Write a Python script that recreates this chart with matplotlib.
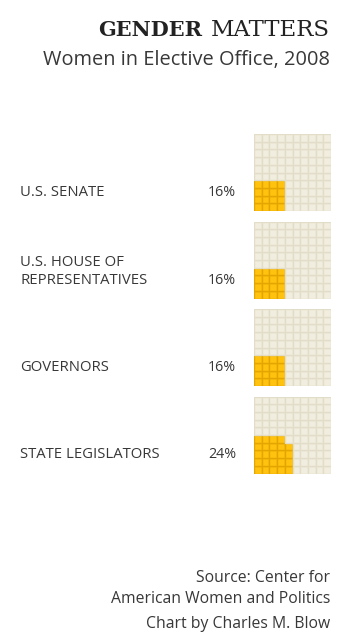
import math
import matplotlib
matplotlib.use("Agg")
import matplotlib.pyplot as plt
from matplotlib.patches import Rectangle

categories = ["U.S. SENATE", "U.S. HOUSE OF\nREPRESENTATIVES", "GOVERNORS", "STATE LEGISLATORS"]
percent_women = [16, 16, 16, 24]

title_bold = "GENDER"
title_light = "MATTERS"
subtitle = "Women in Elective Office, 2008"
source_lines = ["Source: Center for", "American Women and Politics"]
credit = "Chart by Charles M. Blow"

SANS = ["Open Sans", "DejaVu Sans"]
TEXT = "#383838"
EMPTY_FACE = "#f2eedf"
EMPTY_EDGE = "#e2ddc9"
FULL_FACE = "#ffc20f"
FULL_EDGE = "#e3a600"

fig = plt.figure(figsize=(3.5, 6.4), dpi=100)
bg = fig.add_axes([0, 0, 1, 1])
bg.set_xlim(0, 350)
bg.set_ylim(640, 0)
bg.axis("off")

# title block: light word right-aligned, bold word placed just left of it
t2 = bg.text(330, 36, title_light, ha="right", va="baseline", fontsize=16.5,
             family=["DejaVu Serif"], color="#222222")
fig.canvas.draw()
bb = t2.get_window_extent()
left_x = bg.transData.inverted().transform((bb.x0, bb.y0))[0]
bg.text(left_x - 9, 36, title_bold, ha="right", va="baseline", fontsize=15,
        family=["DejaVu Serif"], color="#222222", fontweight="bold")
bg.text(330, 65, subtitle, ha="right", va="baseline", fontsize=14.4,
        family=SANS, color=TEXT)

grid_top = [134, 221.5, 309, 396.5]
label_y = [196.5, 283.5, 371, 457.5]

for i, (cat, pct) in enumerate(zip(categories, percent_women)):
    bg.text(20, label_y[i], cat, ha="left", va="baseline", fontsize=10.7,
            family=SANS, color=TEXT, linespacing=1.2)
    bg.text(236, label_y[i], f"{pct}%", ha="right", va="baseline", fontsize=10.3,
            family=SANS, color=TEXT)

    # waffle: 10x10 cells, filled column by column from bottom-left
    ax = fig.add_axes([254 / 350, 1 - (grid_top[i] + 77) / 640, 77 / 350, 77 / 640])
    ax.set_xlim(0, 10)
    ax.set_ylim(0, 10)
    ax.axis("off")
    h = math.ceil(math.sqrt(pct))
    for c in range(10):
        for r in range(10):
            filled = c * h + r < pct and r < h
            ax.add_patch(Rectangle((c, r), 1, 1,
                                   facecolor=FULL_FACE if filled else EMPTY_FACE,
                                   edgecolor=FULL_EDGE if filled else EMPTY_EDGE,
                                   linewidth=1.0))

bg.text(330, 582, source_lines[0], ha="right", va="baseline", fontsize=11.3,
        family=SANS, color=TEXT)
bg.text(330, 603, source_lines[1], ha="right", va="baseline", fontsize=11.3,
        family=SANS, color=TEXT)
bg.text(330, 628, credit, ha="right", va="baseline", fontsize=11.3,
        family=SANS, color=TEXT)

fig.savefig("out.png", dpi=100, facecolor="white")
